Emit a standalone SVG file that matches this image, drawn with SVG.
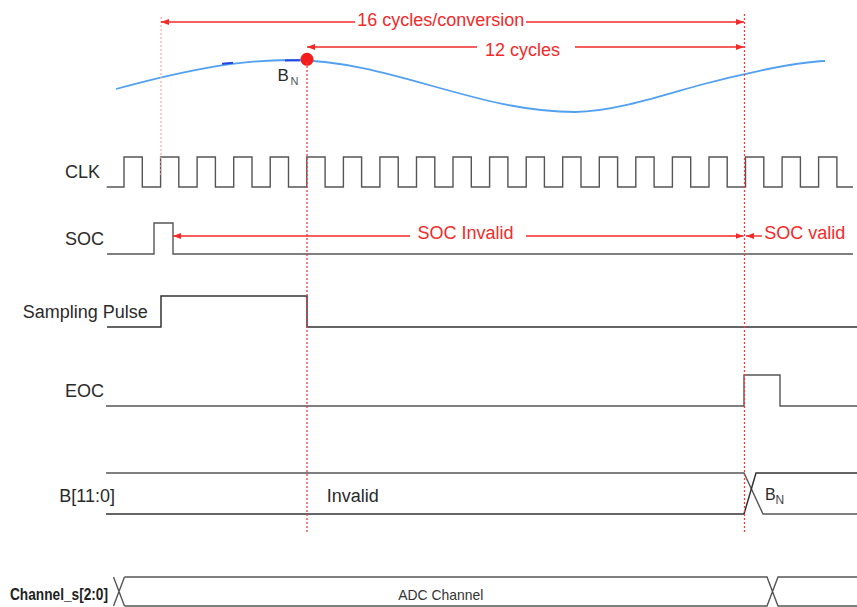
<svg xmlns="http://www.w3.org/2000/svg" width="857" height="607" viewBox="0 0 857 607">
<defs>
<marker id="ah" viewBox="0 0 8 6" refX="8" refY="3" markerWidth="8" markerHeight="6" markerUnits="userSpaceOnUse" orient="auto">
<path d="M0,0 L8,3 L0,6 z" fill="#f42a2a"/>
</marker>
<style>
.lbl{font-family:"Liberation Sans",Arial,sans-serif;font-size:18px;fill:#2a2a2a}
.red{font-family:"Liberation Sans",Arial,sans-serif;font-size:18px;fill:#f42a2a}
.wave{fill:none;stroke:#555;stroke-width:1.4}
.wave2{fill:none;stroke:#333;stroke-width:1.5}
.arr{stroke:#f42a2a;stroke-width:1.4;fill:none}
.vdash{stroke:#f03c3c;stroke-width:1.3;stroke-dasharray:2 2;fill:none}
.vpale{stroke:#f6b0b0;stroke-width:1.3;stroke-dasharray:2 2;fill:none}
</style>
</defs>
<rect width="857" height="607" fill="#fff"/>

<g id="analog-signal">
<path d="M116,89 C174,73.3 232,60 290,60 C390,60 475,112 575,112 C615,112 670,93.1 700,85 C730,76.9 790,62.5 825,61" fill="none" stroke="#52a0f2" stroke-width="1.8"/>
<path d="M222,63.8 L233,62.8 M285,60.6 L300,60.2" stroke="#2545e0" stroke-width="2" fill="none"/>
<circle cx="307" cy="59.3" r="6.5" fill="#f41c1c"/>
<text class="lbl" x="277.5" y="81" style="font-size:17px">B</text>
<text class="lbl" x="290.5" y="85" style="font-size:11px;fill:#555">N</text>
</g>

<g id="sig-clk">
<text class="lbl" x="65" y="177.5">CLK</text>
<path class="wave" d="M106.7,187 H124 V157 H142.3 V187 H160.6 V157 H178.8 V187 H197.1 V157 H215.4 V187 H233.7 V157 H252 V187 H270.2 V157 H288.5 V187 H306.8 V157 H325.1 V187 H343.4 V157 H361.6 V187 H379.9 V157 H398.2 V187 H416.5 V157 H434.8 V187 H453 V157 H471.3 V187 H489.6 V157 H507.9 V187 H526.2 V157 H544.4 V187 H562.7 V157 H581 V187 H599.3 V157 H617.6 V187 H635.8 V157 H654.1 V187 H672.4 V157 H690.7 V187 H709 V157 H727.2 V187 H745.5 V157 H763.8 V187 H782.1 V157 H800.4 V187 H818.6 V157 H836.9 V187 H853"/>
</g>

<g id="sig-soc">
<text class="lbl" x="65" y="245">SOC</text>
<path class="wave" d="M107,254 H154 V223 H173 V254 H853"/>
</g>

<g id="sig-sampling">
<text class="lbl" x="22.7" y="318.3">Sampling Pulse</text>
<path class="wave2" d="M107,327 H161 V296 H307 V327 H857"/>
</g>

<g id="sig-eoc">
<text class="lbl" x="65" y="397.3">EOC</text>
<path class="wave" d="M106,406 H744 V375 H780 V406 H857"/>
</g>

<g id="sig-b">
<text class="lbl" x="59.3" y="501.7">B[11:0]</text>
<path class="wave" d="M106,473 H744 L763,514 H857"/>
<path class="wave2" d="M106,514 H744 L756,473 H857"/>
<text class="lbl" x="326.7" y="501.7">Invalid</text>
<text class="lbl" x="765" y="499.5" style="font-size:16px">B</text>
<text class="lbl" x="775.5" y="503.5" style="font-size:12px;fill:#444">N</text>
</g>

<g id="sig-channel">
<text x="10" y="600" font-family="'Liberation Sans',Arial,sans-serif" font-weight="bold" font-size="16" fill="#222" textLength="98" lengthAdjust="spacingAndGlyphs">Channel_s[2:0]</text>
<path class="wave" d="M113.5,577 L124.5,606 M124.5,577 L113.5,606 M124.5,577 H767 L778,606 H857 M124.5,606 H767 L778,577 H857"/>
<text x="398.3" y="600" font-family="'Liberation Sans',Arial,sans-serif" font-size="15" fill="#333" textLength="85" lengthAdjust="spacingAndGlyphs">ADC Channel</text>
</g>

<g id="connectors">
<line class="vpale" x1="161" y1="17" x2="161" y2="176"/>
<line class="vdash" x1="307" y1="62" x2="307" y2="532"/>
<line class="vdash" x1="744.5" y1="14" x2="744.5" y2="532"/>

<line class="arr" x1="355" y1="22" x2="161" y2="22" marker-end="url(#ah)"/>
<line class="arr" x1="526" y1="22" x2="744" y2="22" marker-end="url(#ah)"/>
<text class="red" x="357.3" y="26.3">16 cycles/conversion</text>

<line class="arr" x1="477" y1="47" x2="307" y2="47" marker-end="url(#ah)"/>
<line class="arr" x1="575" y1="47" x2="744" y2="47" marker-end="url(#ah)"/>
<text class="red" x="485" y="56.2">12 cycles</text>

<line class="arr" x1="410" y1="236" x2="173" y2="236" marker-end="url(#ah)"/>
<line class="arr" x1="526" y1="236" x2="743.5" y2="236" marker-end="url(#ah)"/>
<text class="red" x="417.5" y="238.5">SOC Invalid</text>

<line class="arr" x1="762" y1="236" x2="746" y2="236" marker-end="url(#ah)"/>
<text class="red" x="764.3" y="238.5">SOC valid</text>
</g>
</svg>
